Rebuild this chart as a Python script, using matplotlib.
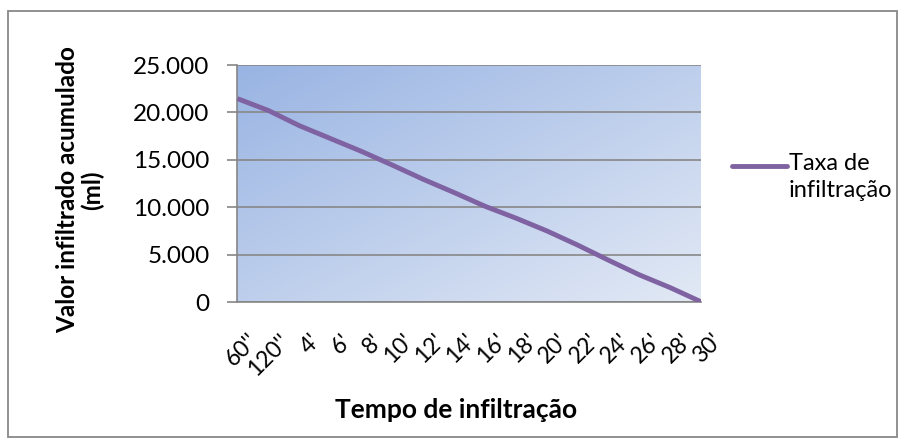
import matplotlib
matplotlib.use("Agg")
import matplotlib.pyplot as plt
import matplotlib.transforms as mtransforms
from matplotlib.ticker import FuncFormatter
from matplotlib.patches import Rectangle
from matplotlib.lines import Line2D
from matplotlib.colors import LinearSegmentedColormap
import numpy as np

categories = ["60''", "120''", "4'", "6'", "8'", "10'", "12'", "14'",
              "16'", "18'", "20'", "22'", "24'", "26'", "28'", "30'"]
taxa = [21450, 20200, 18600, 17250, 15900, 14450, 12950, 11550,
        10100, 8850, 7500, 6000, 4400, 2850, 1500, 0]
serie = "Taxa de\ninfiltração"

plt.rcParams['font.family'] = ['Lato', 'DejaVu Sans']

fig = plt.figure(figsize=(9.03, 4.44), dpi=100)
ax = fig.add_axes([237.5 / 903, 1 - 302 / 444, 464 / 903, 237 / 444])

# diagonal gradient background, dark at top-left
gx, gy = np.meshgrid(np.linspace(0, 1, 200), np.linspace(0, 1, 200))
grad = (gx + gy) / 2
cmap = LinearSegmentedColormap.from_list("bg", ["#99b4e3", "#e2e9f5"])
ax.imshow(grad, cmap=cmap, extent=[0, 1, 0, 1], transform=ax.transAxes,
          aspect='auto', origin='upper', zorder=0, interpolation='bilinear')

x = np.arange(len(categories))
line, = ax.plot(x, taxa, color='#7f62a2', lw=3.5, solid_capstyle='butt',
                solid_joinstyle='round', zorder=3)

ax.set_xlim(0, len(categories) - 1)
ax.set_ylim(0, 25000)
ax.set_yticks(np.arange(0, 25001, 5000))
ax.yaxis.set_major_formatter(FuncFormatter(
    lambda v, p: "0" if v == 0 else f"{int(v):,}".replace(",", ".")))
ax.yaxis.grid(True, color='#878787', lw=1.2, zorder=1)

# category labels, rotated like the original
ax.set_xticks(x)
ax.set_xticklabels([])
ax.tick_params(axis='x', length=0)
trans = mtransforms.blended_transform_factory(ax.transData, ax.transAxes)
off = mtransforms.ScaledTranslation(10 / 100, -28 / 100, fig.dpi_scale_trans)
for i, lab in enumerate(categories):
    ax.text(i, 0, lab, transform=trans + off, rotation=45, ha='right',
            va='top', rotation_mode='anchor', fontsize=16.5, clip_on=False)

ax.tick_params(axis='y', length=7, width=1.2, color='#868686', pad=13,
               labelsize=17.5)

for s in ['top', 'right']:
    ax.spines[s].set_visible(False)
for s in ['left', 'bottom']:
    ax.spines[s].set_color('#868686')
    ax.spines[s].set_linewidth(1.2)

fig.text(80 / 903, 1 - 190 / 444, "Valor infiltrado acumulado\n(ml)",
         rotation=90, ha='center', va='center', fontsize=17.5,
         fontweight='bold', linespacing=1.1)
fig.text(456 / 903, 1 - 410 / 444, "Tempo de infiltração", ha='center',
         va='center', fontsize=19, fontweight='bold')

# legend
fig.add_artist(Line2D([732 / 903, 787 / 903], [1 - 166 / 444, 1 - 166 / 444],
                      transform=fig.transFigure, color=line.get_color(),
                      lw=3.5, solid_capstyle='round'))
fig.text(789 / 903, 1 - 153 / 444, serie, ha='left', va='top', fontsize=17,
         linespacing=1.35)

fig.patches.append(Rectangle((8 / 903, 1 - 437 / 444), 889 / 903, 426 / 444,
                             transform=fig.transFigure, fill=False,
                             edgecolor='#888888', lw=1.3))

fig.savefig("out.png", dpi=100)
